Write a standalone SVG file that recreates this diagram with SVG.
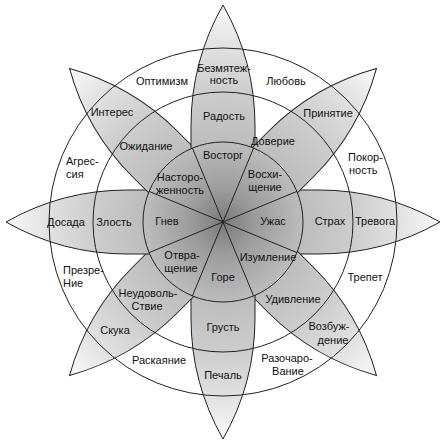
<svg xmlns="http://www.w3.org/2000/svg" width="445" height="443" viewBox="0 0 445 443">
<defs>
<radialGradient id="g" gradientUnits="userSpaceOnUse" cx="0" cy="0" r="217">
<stop offset="0" stop-color="#7a7a7a"/>
<stop offset="0.15" stop-color="#9c9c9c"/>
<stop offset="0.37" stop-color="#bdbdbd"/>
<stop offset="0.6" stop-color="#cdcdcd"/>
<stop offset="0.8" stop-color="#e0e0e0"/>
<stop offset="1" stop-color="#fafafa"/>
</radialGradient>
<path id="petal" d="M217,0 A245,245 0 0 0 96,-32 L30,-32 L30,32 L96,32 A245,245 0 0 0 217,0 Z"/>
</defs>
<style>
.p{fill:url(#g);stroke:#222;stroke-width:1}
.c{fill:none;stroke:#222;stroke-width:1}
.l{stroke:#222;stroke-width:1}
text{font-family:"Liberation Sans",Arial,sans-serif;font-size:11px;fill:#111;text-anchor:middle}
.s{text-anchor:start}
</style>
<rect width="445" height="443" fill="#fff"/>
<g transform="translate(223,222)">
<g id="petals">
<use href="#petal" class="p" transform="rotate(0)"/>
<use href="#petal" class="p" transform="rotate(45)"/>
<use href="#petal" class="p" transform="rotate(90)"/>
<use href="#petal" class="p" transform="rotate(135)"/>
<use href="#petal" class="p" transform="rotate(180)"/>
<use href="#petal" class="p" transform="rotate(225)"/>
<use href="#petal" class="p" transform="rotate(270)"/>
<use href="#petal" class="p" transform="rotate(315)"/>
</g>
<circle id="inner" r="80" fill="url(#g)" stroke="#222"/>
<circle id="middle" class="c" r="130"/>
<circle id="outer" class="c" r="174"/>
<g id="connectors">
<line class="l" x1="0" y1="0" x2="73.9" y2="30.6"/>
<line class="l" x1="0" y1="0" x2="30.6" y2="73.9"/>
<line class="l" x1="0" y1="0" x2="-30.6" y2="73.9"/>
<line class="l" x1="0" y1="0" x2="-73.9" y2="30.6"/>
<line class="l" x1="0" y1="0" x2="-73.9" y2="-30.6"/>
<line class="l" x1="0" y1="0" x2="-30.6" y2="-73.9"/>
<line class="l" x1="0" y1="0" x2="30.6" y2="-73.9"/>
<line class="l" x1="0" y1="0" x2="73.9" y2="-30.6"/>
</g>
</g>
<g id="inner-labels">
<text x="223" y="159">Восторг</text>
<text x="265" y="178">Восхи-</text>
<text x="265" y="191">щение</text>
<text x="273" y="225">Ужас</text>
<text x="268" y="261">Изумление</text>
<text x="223" y="281">Горе</text>
<text x="182" y="259">Отвра-</text>
<text x="181" y="272">щение</text>
<text x="167" y="225">Гнев</text>
<text x="180" y="181">Насторо-</text>
<text x="180" y="194">женность</text>
</g>
<g id="middle-labels">
<text x="224" y="120">Радость</text>
<text x="273" y="145">Доверие</text>
<text x="330" y="225">Страх</text>
<text x="293" y="303">Удивление</text>
<text x="223" y="331">Грусть</text>
<text x="148" y="297">Неудоволь-</text>
<text x="147" y="310">Ствие</text>
<text x="114" y="226">Злость</text>
<text x="146" y="150">Ожидание</text>
</g>
<g id="outer-labels">
<text x="224" y="72">Безмятеж-</text>
<text x="224" y="84">ность</text>
<text x="328" y="117">Принятие</text>
<text x="375" y="225">Тревога</text>
<text x="329" y="330">Возбуж-</text>
<text x="333" y="344">дение</text>
<text x="223" y="379">Печаль</text>
<text x="115" y="334">Скука</text>
<text x="66" y="226">Досада</text>
<text x="112" y="116">Интерес</text>
</g>
<g id="between-labels">
<text x="162" y="85">Оптимизм</text>
<text x="286" y="85">Любовь</text>
<text class="s" x="348" y="161">Покор-</text>
<text class="s" x="349" y="174">ность</text>
<text x="365" y="281">Трепет</text>
<text x="287" y="362">Разочаро-</text>
<text x="288" y="375">Вание</text>
<text x="159" y="364">Раскаяние</text>
<text class="s" x="63" y="274">Презре-</text>
<text class="s" x="63" y="287">Ние</text>
<text class="s" x="66" y="165">Агрес-</text>
<text class="s" x="66" y="178">сия</text>
</g>
</svg>
